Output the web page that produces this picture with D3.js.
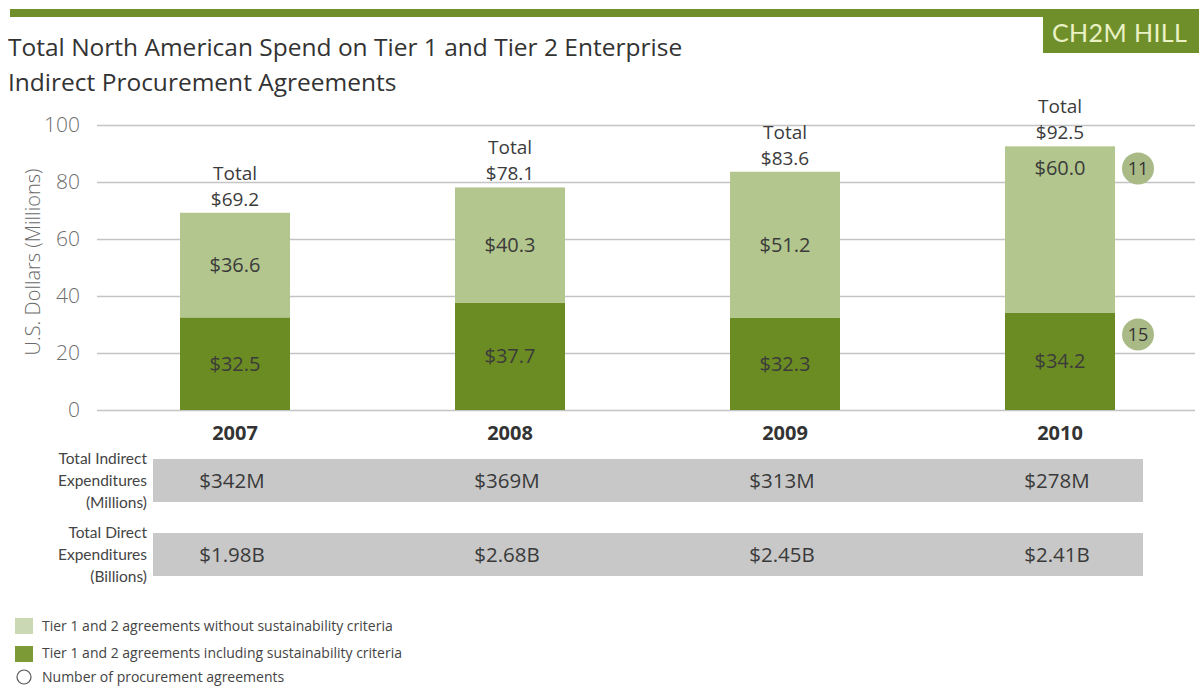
<!DOCTYPE html>
<html>
<head>
<meta charset="utf-8">
<script src="https://cdn.jsdelivr.net/npm/d3@7"></script>
<style>
  html, body { margin: 0; padding: 0; background: #fff; }
  svg { display: block; font-family: "Open Sans", Lato, sans-serif; }
</style>
</head>
<body>
<svg id="chart" width="1199" height="686"></svg>
<script>
// ---- data ----
const years = ["2007", "2008", "2009", "2010"];
const withoutCriteria = [36.6, 40.3, 51.2, 60.0];   // light segment
const withCriteria = [32.5, 37.7, 32.3, 34.2];      // dark segment
const totals = [69.2, 78.1, 83.6, 92.5];
const yTicks = [0, 20, 40, 60, 80, 100];
const indirectSpend = ["$342M", "$369M", "$313M", "$278M"];
const directSpend = ["$1.98B", "$2.68B", "$2.45B", "$2.41B"];
const agreementCounts2010 = [15, 11];               // [with criteria, without criteria]
const legendLabels = [
  "Tier 1 and 2 agreements without sustainability criteria",
  "Tier 1 and 2 agreements including sustainability criteria",
  "Number of procurement agreements"
];

// ---- styles ----
const DARK = "#6b8c22";
const LIGHT = "#b2c68d";
const BUBBLE = "#a9ba87";
const TEXT = "#3b3b3b";

const svg = d3.select("#chart");

// header band and logo tab
svg.append("rect").attr("x", 10).attr("y", 9).attr("width", 1189).attr("height", 8).attr("fill", "#6f8f2b");
svg.append("rect").attr("x", 1043).attr("y", 9).attr("width", 156).attr("height", 44).attr("fill", "#6f8f2b");
svg.append("text").attr("x", 1052).attr("y", 42).attr("font-size", 25).attr("fill", "#eaf1c4")
  .attr("font-family", "Lato, sans-serif").attr("letter-spacing", 0.4).text("CH2M HILL");

// title
const title = svg.append("text").attr("x", 8).attr("font-size", 24.5).attr("fill", "#333");
title.append("tspan").attr("x", 8).attr("y", 56).text("Total North American Spend on Tier 1 and Tier 2 Enterprise");
title.append("tspan").attr("x", 8).attr("y", 91).text("Indirect Procurement Agreements");

// scales
const x = d3.scaleBand().domain(years).range([180, 1115]).paddingInner(0.6);
const y = d3.scaleLinear().domain([0, 100]).range([410, 125]);

// gridlines + tick labels via axis
const yAxis = svg.append("g").attr("transform", "translate(97,0)")
  .call(d3.axisLeft(y).tickValues(yTicks).tickSize(-1098).tickPadding(17).tickFormat(d3.format("d")));
yAxis.select(".domain").remove();
yAxis.selectAll(".tick line").attr("stroke", "#c4c4c4").attr("stroke-width", 1.5);
yAxis.selectAll(".tick text").attr("font-size", 21).attr("fill", "#6e6e6e")
  .attr("font-family", "'Open Sans', sans-serif").attr("font-weight", 300);

// y axis title
svg.append("text")
  .attr("transform", "translate(40,262) rotate(-90)")
  .attr("text-anchor", "middle").attr("font-size", 20).attr("fill", "#6a6a6a").attr("font-weight", 300)
  .text("U.S. Dollars (Millions)");

// stacked bars: dark segment from its value, light segment up to the stated total
const bars = svg.append("g");
years.forEach((yr, i) => {
  const x0 = x(yr), bw = x.bandwidth(), cx = x0 + bw / 2;
  const d = withCriteria[i], l = withoutCriteria[i], t = totals[i];
  bars.append("rect").attr("x", x0).attr("width", bw)
    .attr("y", y(d)).attr("height", y(0) - y(d)).attr("fill", DARK);
  bars.append("rect").attr("x", x0).attr("width", bw)
    .attr("y", y(t)).attr("height", y(d) - y(t)).attr("fill", LIGHT);

  // segment value labels
  bars.append("text").attr("x", cx).attr("y", (y(d) + y(0)) / 2)
    .attr("dy", "0.35em").attr("text-anchor", "middle").attr("font-size", 20).attr("fill", TEXT)
    .text("$" + d.toFixed(1));
  const lightY = i === years.length - 1 ? y(t) + 22 : (y(d) + y(t)) / 2;
  bars.append("text").attr("x", cx).attr("y", lightY)
    .attr("dy", "0.35em").attr("text-anchor", "middle").attr("font-size", 20).attr("fill", TEXT)
    .text("$" + l.toFixed(1));

  // two-line total label above the bar
  const top = y(t);
  bars.append("text").attr("x", cx).attr("y", top - 33).attr("text-anchor", "middle")
    .attr("font-size", 19).attr("fill", TEXT).text("Total");
  bars.append("text").attr("x", cx).attr("y", top - 7).attr("text-anchor", "middle")
    .attr("font-size", 19).attr("fill", TEXT).text("$" + t.toFixed(1));

  // year label
  svg.append("text").attr("x", cx).attr("y", 440).attr("text-anchor", "middle")
    .attr("font-size", 20).attr("font-weight", 700).attr("fill", "#333").text(yr);
});

// agreement count bubbles next to the 2010 bar
const last = years.length - 1;
const bx = x(years[last]) + x.bandwidth() + 23;
const bubbleY = [
  y(withCriteria[last]) + 22,
  y(totals[last]) + 22
];
agreementCounts2010.forEach((n, k) => {
  svg.append("circle").attr("cx", bx).attr("cy", bubbleY[k]).attr("r", 16).attr("fill", BUBBLE);
  svg.append("text").attr("x", bx).attr("y", bubbleY[k]).attr("dy", "0.36em").attr("text-anchor", "middle")
    .attr("font-size", 18).attr("fill", "#333").text(n);
});

// summary table rows
const rows = [
  { lines: ["Total Indirect", "Expenditures", "(Millions)"], values: indirectSpend, top: 459 },
  { lines: ["Total Direct", "Expenditures", "(Billions)"], values: directSpend, top: 533 }
];
rows.forEach(r => {
  svg.append("rect").attr("x", 153).attr("y", r.top).attr("width", 990).attr("height", 43).attr("fill", "#c8c8c8");
  const lab = svg.append("text").attr("text-anchor", "end").attr("font-size", 15.5).attr("fill", "#444")
    .attr("font-family", "Lato, sans-serif");
  r.lines.forEach((t, j) => lab.append("tspan").attr("x", 147).attr("y", r.top + 5 + j * 22).text(t));
  r.values.forEach((v, i) => {
    svg.append("text").attr("x", x(years[i]) + x.bandwidth() / 2 - 3).attr("y", r.top + 21.5)
      .attr("dy", "0.35em").attr("text-anchor", "middle").attr("font-size", 20.5).attr("fill", "#3a3a3a").text(v);
  });
});

// legend
const legend = svg.append("g").attr("font-size", 14).attr("fill", "#444");
const legendY = [631, 658, 682];
legend.append("rect").attr("x", 15).attr("y", 618).attr("width", 18).attr("height", 16).attr("fill", "#cbd8b4");
legend.append("rect").attr("x", 15).attr("y", 646).attr("width", 18).attr("height", 16).attr("fill", "#7c9a35");
legend.append("circle").attr("cx", 24).attr("cy", 677).attr("r", 7).attr("fill", "none")
  .attr("stroke", "#555").attr("stroke-width", 1.2);
legendLabels.forEach((t, i) => {
  legend.append("text").attr("x", 42).attr("y", legendY[i]).text(t);
});
</script>
</body>
</html>
